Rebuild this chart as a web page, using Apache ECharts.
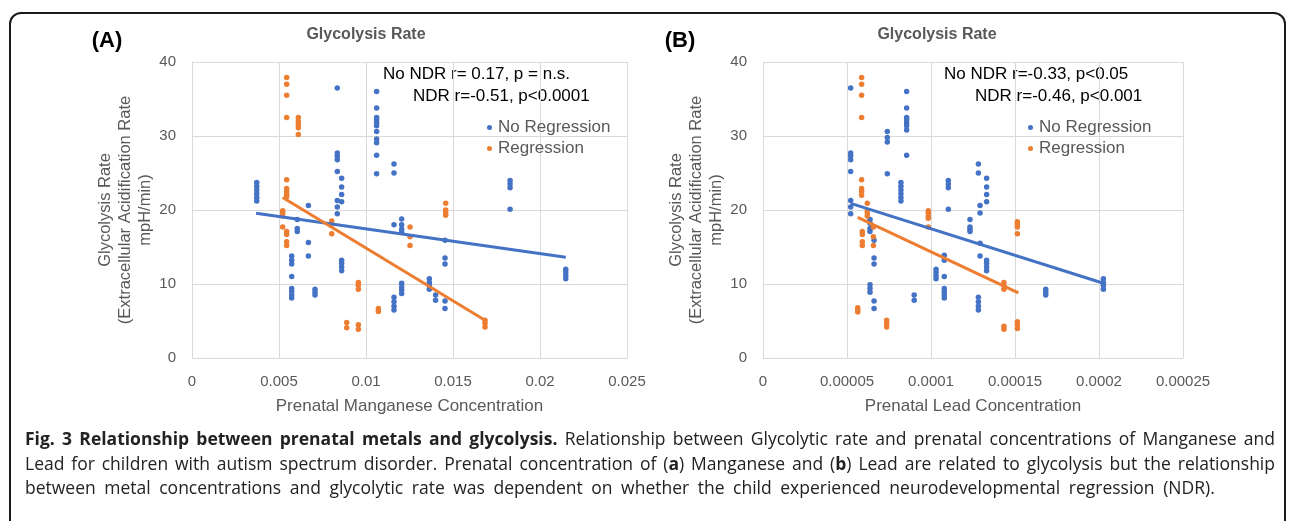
<!DOCTYPE html>
<html>
<head>
<meta charset="utf-8">
<script src="https://cdn.jsdelivr.net/npm/echarts@6/dist/echarts.min.js"></script>
<style>
  html, body { margin: 0; padding: 0; background: #fff; }
  #wrap { position: relative; width: 1292px; height: 521px; overflow: hidden; }
  #frame { position: absolute; left: 9px; top: 12px; width: 1277px; height: 530px;
           border: 2px solid #1a1a1a; border-radius: 12px; box-sizing: border-box; }
  #chart { position: absolute; left: 0; top: 0; width: 1292px; height: 521px; }
  #caption { position: absolute; left: 25px; top: 426px; width: 1250px;
             font-family: "Open Sans", "Noto Sans", sans-serif; font-size: 17.5px;
             line-height: 24.5px; color: #222; }
  #caption .l { text-align: justify; text-align-last: justify; white-space: nowrap; }
  #caption .last { text-align: left; white-space: nowrap; word-spacing: 4px; }
</style>
</head>
<body>
<div id="wrap">
  <div id="frame"></div>
  <div id="chart"></div>
  <div id="caption">
    <div class="l"><b>Fig. 3 Relationship between prenatal metals and glycolysis.</b> Relationship between Glycolytic rate and prenatal concentrations of Manganese and</div>
    <div class="l">Lead for children with autism spectrum disorder. Prenatal concentration of (<b>a</b>) Manganese and (<b>b</b>) Lead are related to glycolysis but the relationship</div>
    <div class="last">between metal concentrations and glycolytic rate was dependent on whether the child experienced neurodevelopmental regression (NDR).</div>
  </div>
</div>
<script>
// ---- Data: [x, [y values at that x]] ----
const mnNoRegression = [
  [0.00372, [23.7, 23.2, 22.7, 22.2, 21.7, 21.2]],
  [0.00573, [13.8, 13.2, 12.7, 11.0, 9.4, 9.0, 8.5, 8.1]],
  [0.00605, [18.7, 17.5, 17.1]],
  [0.00669, [20.6, 15.6, 13.8]],
  [0.00707, [9.3, 8.9, 8.5]],
  [0.00835, [36.5, 27.7, 27.3, 26.8, 25.2, 21.3, 20.4, 19.5]],
  [0.00860, [24.3, 23.1, 22.1, 21.1, 13.2, 12.8, 12.3, 11.8]],
  [0.01061, [36.0, 33.8, 32.5, 32.2, 31.8, 31.4, 30.6, 29.6, 29.1, 27.4, 24.9]],
  [0.01161, [26.2, 25.0, 18.0, 8.2, 7.6, 7.0, 6.5]],
  [0.01205, [18.8, 18.0, 17.4, 17.0, 10.1, 9.6, 9.2, 8.7]],
  [0.01364, [10.7, 10.2, 9.8, 9.3]],
  [0.01400, [8.5, 7.8]],
  [0.01454, [15.9, 13.5, 12.7, 7.7, 6.7]],
  [0.01828, [24.0, 23.5, 23.0, 20.1]],
  [0.02148, [12.0, 11.6, 11.1, 10.7]]
];
const mnRegression = [
  [0.00521, [19.9, 19.6, 19.2, 17.7]],
  [0.00544, [37.9, 37.0, 35.5, 32.5, 24.1, 22.9, 22.5, 22.1, 21.8, 17.1, 16.7, 15.7, 15.2]],
  [0.00611, [32.5, 32.0, 31.6, 31.1, 30.2]],
  [0.00803, [18.5, 18.1, 16.8]],
  [0.00889, [4.8, 4.1]],
  [0.00956, [10.2, 9.8, 9.3, 4.5, 3.9]],
  [0.01071, [6.7, 6.3]],
  [0.01253, [17.7, 16.4, 15.2]],
  [0.01458, [20.9, 20.0, 19.6, 19.3]],
  [0.01684, [5.1, 4.7, 4.2]]
];
const pbNoRegression = [
  [0.0000522, [36.5, 27.7, 27.3, 26.8, 25.2, 21.3, 20.4, 19.5]],
  [0.0000637, [18.7, 18.2, 17.5, 17.1, 9.9, 9.4, 8.9]],
  [0.0000661, [15.9, 13.5, 12.7, 7.7, 6.7]],
  [0.0000740, [30.6, 29.8, 29.2, 24.9]],
  [0.0000821, [23.7, 23.2, 22.7, 22.2, 21.7, 21.2]],
  [0.0000855, [36.0, 33.8, 32.5, 32.2, 31.8, 31.4, 30.8, 27.4]],
  [0.0000900, [8.5, 7.8]],
  [0.0001030, [12.0, 11.6, 11.1, 10.7]],
  [0.0001079, [13.9, 13.2, 11.0, 9.4, 9.0, 8.5, 8.1]],
  [0.0001103, [24.0, 23.5, 23.0, 20.1]],
  [0.0001232, [18.7, 17.7, 17.4, 17.1]],
  [0.0001282, [26.2, 25.0, 8.2, 7.6, 7.0, 6.5]],
  [0.0001292, [20.6, 19.6, 15.5, 13.8]],
  [0.0001331, [24.3, 23.1, 22.1, 21.1, 13.2, 12.8, 12.3, 11.8]],
  [0.0001683, [9.3, 8.9, 8.5]],
  [0.0002026, [10.7, 10.2, 9.8, 9.3]]
];
const pbRegression = [
  [0.0000564, [6.8, 6.5, 6.2]],
  [0.0000587, [37.9, 37.0, 35.5, 32.5, 24.1, 22.9, 22.5, 22.0]],
  [0.0000591, [17.1, 16.7, 15.7, 15.2]],
  [0.0000621, [20.9, 19.9, 19.6, 19.2]],
  [0.0000657, [17.7, 16.4, 15.2]],
  [0.0000736, [5.1, 4.7, 4.2]],
  [0.0000984, [19.9, 19.6, 19.2, 18.9, 17.7]],
  [0.0001434, [10.2, 9.8, 9.3, 4.3, 3.9]],
  [0.0001514, [18.4, 18.1, 17.7, 16.8, 4.9, 4.5, 4.0]]
];
// Trend line end points
const mnTrendNoReg = [[0.00368, 19.55], [0.02148, 13.6]];
const mnTrendReg   = [[0.00521, 21.7], [0.01684, 5.1]];
const pbTrendNoReg = [[0.0000522, 20.9], [0.0002026, 10.1]];
const pbTrendReg   = [[0.0000564, 19.0], [0.000152, 8.8]];

const yTicks = [0, 10, 20, 30, 40];
const mnXTicks = ['0', '0.005', '0.01', '0.015', '0.02', '0.025'];
const pbXTicks = ['0', '0.00005', '0.0001', '0.00015', '0.0002', '0.00025'];

const annotA = ['No NDR r= 0.17, p = n.s.', 'NDR r=-0.51, p<0.0001'];
const annotB = ['No NDR r=-0.33, p<0.05', 'NDR r=-0.46, p<0.001'];

const BLUE = '#4472C4', ORANGE = '#ED7D31', GRAY = '#595959', GRID = '#d9d9d9';
const FONT = '"Liberation Sans", Arial, sans-serif';

function flat(cols) {
  const out = [];
  cols.forEach(([x, ys]) => ys.forEach(y => out.push([x, y])));
  return out;
}

function xAxis(idx, step, ticks, name) {
  return {
    type: 'value', gridIndex: idx, min: 0, max: step * 5, interval: step,
    name: name, nameLocation: 'middle', nameGap: 40,
    nameTextStyle: { color: GRAY, fontSize: 17, fontFamily: FONT },
    axisLine: { show: true, lineStyle: { color: GRID, width: 1 } },
    axisTick: { show: false },
    splitLine: { show: true, lineStyle: { color: GRID, width: 1 } },
    axisLabel: { color: GRAY, fontSize: 15, fontFamily: FONT, margin: 16,
      formatter: (v) => ticks[Math.round(v / step)] },
  };
}
function yAxis(idx) {
  return {
    type: 'value', gridIndex: idx, min: 0, max: 40, interval: 10,
    name: 'Glycolysis Rate\n(Extracellular Acidification Rate\nmpH/min)',
    nameLocation: 'middle', nameGap: 37, nameRotate: 90,
    nameTextStyle: { color: GRAY, fontSize: 16.5, fontFamily: FONT, lineHeight: 20, align: 'center' },
    axisLine: { show: true, lineStyle: { color: GRID, width: 1 } },
    axisTick: { show: false },
    splitLine: { show: true, lineStyle: { color: GRID, width: 1 } },
    axisLabel: { color: GRAY, fontSize: 15, fontFamily: FONT, margin: 16,
      formatter: (v) => String(yTicks[Math.round(v / 10)]) },
  };
}
function scatter(name, idx, cols, color) {
  return { type: 'scatter', name: name, xAxisIndex: idx, yAxisIndex: idx,
    data: flat(cols), symbol: 'circle', symbolSize: 5.5,
    itemStyle: { color: color, opacity: 1 }, silent: true, z: 3 };
}
function trend(idx, pts, color) {
  return { type: 'line', name: 'trend' + idx + color, xAxisIndex: idx, yAxisIndex: idx,
    data: pts, symbol: 'none', lineStyle: { color: color, width: 3 }, silent: true, z: 4 };
}
function legend(left) {
  return { data: ['No Regression', 'Regression'], orient: 'vertical', left: left, top: 114,
    icon: 'circle', itemWidth: 5, itemHeight: 5, itemGap: 4,
    textStyle: { color: GRAY, fontSize: 17, fontFamily: FONT, padding: [0, 0, 0, 1] } };
}
function text(x, y, s, opts) {
  return { type: 'text', x: x, y: y, silent: true,
    style: Object.assign({ text: s, fill: '#000', fontSize: 17, fontFamily: FONT,
      textAlign: 'left', textVerticalAlign: 'middle' }, opts || {}) };
}

const chart = echarts.init(document.getElementById('chart'), null, { renderer: 'canvas' });
chart.setOption({
  animation: false,
  backgroundColor: 'transparent',
  grid: [
    { left: 192, right: 665, top: 62, bottom: 163 },
    { left: 763, right: 109, top: 62, bottom: 163 }
  ],
  xAxis: [
    xAxis(0, 0.005, mnXTicks, 'Prenatal Manganese Concentration'),
    xAxis(1, 0.00005, pbXTicks, 'Prenatal Lead Concentration')
  ],
  yAxis: [yAxis(0), yAxis(1)],
  legend: [legend(482), legend(1023)],
  series: [
    scatter('No Regression', 0, mnNoRegression, BLUE),
    scatter('Regression', 0, mnRegression, ORANGE),
    trend(0, mnTrendNoReg, BLUE),
    trend(0, mnTrendReg, ORANGE),
    scatter('No Regression', 1, pbNoRegression, BLUE),
    scatter('Regression', 1, pbRegression, ORANGE),
    trend(1, pbTrendNoReg, BLUE),
    trend(1, pbTrendReg, ORANGE)
  ],
  graphic: [
    text(107, 41, '(A)', { fontSize: 22, fontWeight: 'bold', textAlign: 'center' }),
    text(680, 41, '(B)', { fontSize: 22, fontWeight: 'bold', textAlign: 'center' }),
    text(366, 35, 'Glycolysis Rate', { fontSize: 16, fontWeight: 'bold', fill: GRAY, textAlign: 'center' }),
    text(937, 35, 'Glycolysis Rate', { fontSize: 16, fontWeight: 'bold', fill: GRAY, textAlign: 'center' }),
    text(383, 74, annotA[0]),
    text(413, 96, annotA[1]),
    text(944, 74, annotB[0]),
    text(975, 96, annotB[1])
  ]
});
</script>
</body>
</html>
